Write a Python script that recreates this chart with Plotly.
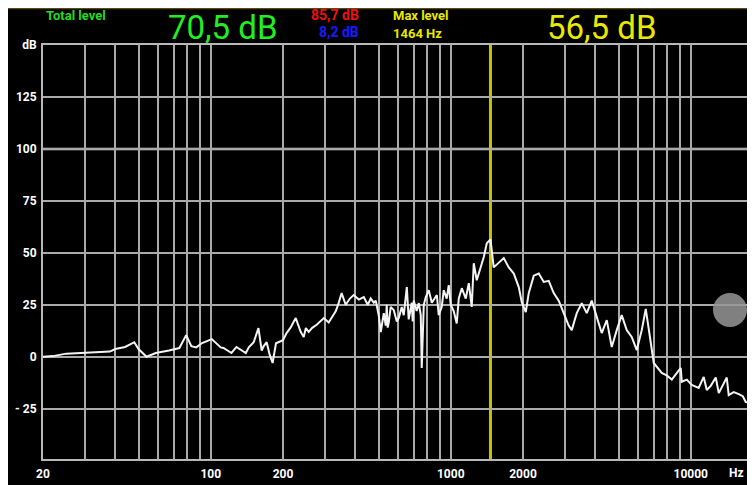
import plotly.graph_objects as go

# ---- data ----
freq_hz = [20, 22, 25, 28, 33, 38, 40, 44, 48, 50, 54, 59, 67, 74, 79, 83, 87, 92, 101, 110,
           113, 122, 128, 140, 144, 151, 158, 163, 166, 171, 176, 181, 187, 192, 200, 207, 215,
           226, 237, 244, 249, 256, 264, 277, 290, 296, 310, 319, 332, 341, 351, 365, 380, 394,
           414, 434, 451, 464, 478, 487, 501, 511, 526, 536, 541, 546, 552, 562, 579, 596, 607,
           625, 637, 656, 668, 688, 694, 701, 721, 736, 750, 757, 772, 787, 810, 834, 858, 875,
           891, 917, 935, 962, 981, 1000, 1029, 1059, 1080, 1112, 1155, 1189, 1223, 1247, 1283,
           1309, 1334, 1373, 1413, 1464, 1510, 1585, 1663, 1745, 1831, 1920, 1977, 2054, 2113,
           2218, 2327, 2441, 2560, 2686, 2818, 2956, 3101, 3192, 3350, 3514, 3687, 3868, 4057,
           4256, 4467, 4686, 4916, 5157, 5410, 5675, 5957, 6249, 6494, 6683, 7013, 7568, 7943,
           8337, 8750, 9085, 9173, 9628, 10093, 10790, 11325, 11660, 12115, 12711, 13084, 13600,
           14125, 14393, 15101, 15849, 16478, 16946, 17620, 18302]
level_db = [0, 0.3, 1.5, 1.8, 2.0, 2.5, 3.7, 4.7, 7, 3.7, 0, 1.8, 3.0, 4.2, 10.4, 5.1, 4.5, 6.6,
            8.5, 4.5, 4.2, 1.8, 4.7, 1.8, 4.5, 7, 13.8, 3, 5, 7, 1, -3, 6.5, 7, 8, 11.4, 14,
            18.6, 12, 9.5, 13.8, 12, 13.8, 15.5, 17.6, 18.6, 16.5, 19, 22, 25.8, 30.6, 25, 28,
            29.7, 27.5, 28.7, 25, 28, 26, 27, 20, 11.9, 21, 15, 25, 14, 16.7, 24, 22.4, 17, 18.6,
            23.9, 20, 33.5, 18, 26, 17, 27, 22, 25.8, 20, -5.4, 25, 28.7, 32, 26, 28, 29.7,
            20, 23.9, 32, 28, 34.5, 25, 22, 16, 28, 33, 28, 35.4, 24, 45, 36.8, 40, 43, 48,
            54.6, 56.5, 43, 45.5, 47.5, 43, 40, 33.5, 26.3, 21.5, 30.6, 39, 40, 36, 36.5,
            30.6, 27, 21, 15, 12.8, 21, 25.8, 21, 27, 19, 11.4, 17.6, 4.7, 12.8, 20, 12.8, 9.5,
            3.2, 12.8, 23, 12.8, -3, -7.8, -9, -11, -8, -5.4, -12, -11, -13.6, -15, -9.7, -16,
            -14, -10, -17.5, -14, -10, -18.4, -17, -18, -19, -21.8, -22, -25]

grid_freqs = [20, 30, 40, 50, 60, 70, 80, 90, 100, 200, 300, 400, 500, 600, 700, 800, 900,
              1000, 2000, 3000, 4000, 5000, 6000, 7000, 8000, 9000, 10000]
x_labels = {20: "20", 100: "100", 200: "200", 1000: "1000", 2000: "2000", 10000: "10000"}
y_ticks = [-25, 0, 25, 50, 75, 100, 125, 150]
y_labels = ["- 25", "0", "25", "50", "75", "100", "125", "dB"]

total_level = "70,5 dB"
peak_hi = "85,7 dB"
peak_lo = "8,2 dB"
max_freq = 1464
max_level = "56,5 dB"

# the page has an 8 px body margin; the visible figure width is the body width
OFF = 8
W, H = 755 - 2 * OFF, 485 - OFF
ML, MR, MT = 43 - OFF, 0, 45 - OFF
MB = H - (459 - OFF)
PW, PH = W - ML - MR, H - MT - MB


def px(xp):  # page pixel -> paper x
    return (xp - OFF - ML) / PW


def py(yp):  # page pixel -> paper y
    return 1 + (MT - (yp - OFF)) / PH


fig = go.Figure()
fig.add_trace(go.Scatter(x=freq_hz, y=level_db, mode="lines",
                         line=dict(color="#f4f4f4", width=2), hoverinfo="skip"))

tickfont = dict(size=12, color="white", family="Roboto", weight="bold")
fig.update_layout(
    width=W, height=H,
    margin=dict(l=ML, r=MR, t=MT, b=MB),
    paper_bgcolor="black", plot_bgcolor="black",
    showlegend=False,
    font=dict(family="Roboto", color="white"),
    xaxis=dict(type="log", range=[1.30103, 1.30103 + PW / 240.0],
               tickvals=grid_freqs,
               ticktext=[x_labels.get(f, "") for f in grid_freqs],
               showgrid=True, gridcolor="#aaaaaa", gridwidth=2,
               showline=True, linecolor="#b8b8b8", linewidth=2, mirror=True,
               ticks="", tickfont=tickfont, ticklabelstandoff=3, zeroline=False,
               automargin=False),
    yaxis=dict(range=[-49.2, 150], tickvals=y_ticks, ticktext=y_labels,
               showgrid=True, gridcolor="#aaaaaa", gridwidth=2,
               showline=True, linecolor="#b8b8b8", linewidth=2,
               ticks="", tickfont=tickfont, ticklabelstandoff=2, zeroline=False,
               automargin=False),
)

shapes = [
    # brighter 100 dB line
    dict(type="line", xref="paper", yref="y", x0=0, x1=1, y0=100, y1=100,
         line=dict(color="#d8d8d8", width=2.5), layer="below"),
    # max-level marker
    dict(type="line", xref="x", yref="paper", x0=max_freq, x1=max_freq, y0=0, y1=1,
         line=dict(color="#c8c000", width=3), layer="below"),
    # grey touch circle
    dict(type="circle", xref="paper", yref="paper",
         x0=px(713), x1=px(747), y0=py(327), y1=py(293),
         fillcolor="rgba(150,150,150,0.85)", line=dict(width=0), layer="above"),
    # dark separator at the top edge of the panel
    dict(type="line", xref="paper", yref="paper", x0=px(OFF), x1=px(760), y0=py(OFF + 0.5),
         y1=py(OFF + 0.5), line=dict(color="#5c4a10", width=1.5), layer="above"),
]
fig.update_layout(shapes=shapes)

ann = [
    dict(text="Total level", x=px(44), y=py(16), xanchor="left", yanchor="middle",
         font=dict(size=13, color="#22dd22", family="Roboto", weight="bold")),
    dict(text=total_level, x=px(223), y=py(27), xanchor="center", yanchor="middle",
         font=dict(size=33, color="#22ee22", family="Roboto")),
    dict(text=peak_hi, x=px(361), y=py(15), xanchor="right", yanchor="middle",
         font=dict(size=14, color="#ee1111", family="Roboto", weight="bold")),
    dict(text=peak_lo, x=px(361), y=py(32), xanchor="right", yanchor="middle",
         font=dict(size=14, color="#1a1aff", family="Roboto", weight="bold")),
    dict(text="Max level", x=px(391), y=py(16), xanchor="left", yanchor="middle",
         font=dict(size=13, color="#e8e800", family="Roboto", weight="bold")),
    dict(text=f"{max_freq} Hz", x=px(391), y=py(33), xanchor="left", yanchor="middle",
         font=dict(size=13, color="#e8e800", family="Roboto", weight="bold")),
    dict(text=max_level, x=px(602), y=py(27), xanchor="center", yanchor="middle",
         font=dict(size=33, color="#e8e800", family="Roboto")),
    dict(text="Hz", x=px(746), y=py(473), xanchor="right", yanchor="middle",
         font=dict(size=12, color="white", family="Roboto", weight="bold")),
]
for a in ann:
    a.update(xref="paper", yref="paper", showarrow=False)
fig.update_layout(annotations=ann)

fig.write_html("out.html")
